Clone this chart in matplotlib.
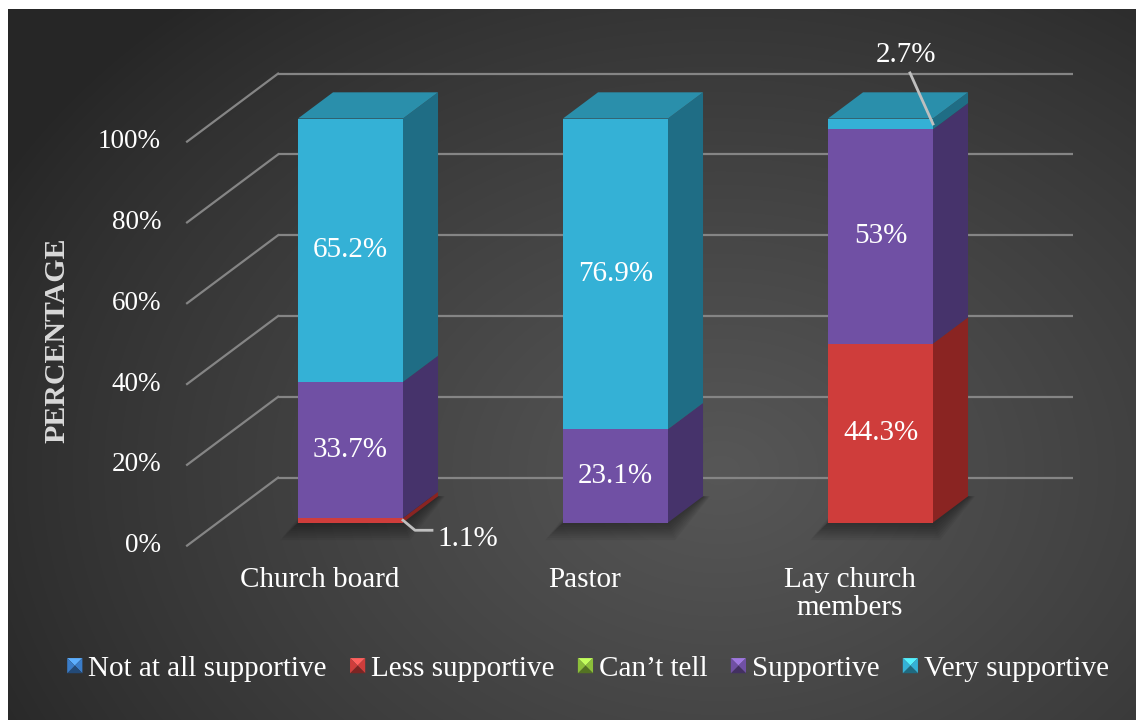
import matplotlib
matplotlib.use("Agg")
import matplotlib.pyplot as plt
import numpy as np
from matplotlib.legend_handler import HandlerBase
from matplotlib.patches import Patch, Polygon

plt.rcParams["font.family"] = ["Liberation Serif", "DejaVu Serif"]

categories = ["Church board", "Pastor", "Lay church\nmembers"]
series = ["Not at all supportive", "Less supportive", "Can\u2019t tell", "Supportive", "Very supportive"]
not_at_all = [0.0, 0.0, 0.0]
less_supportive = [1.1, 0.0, 44.3]
cant_tell = [0.0, 0.0, 0.0]
supportive = [33.7, 23.1, 53.0]
very_supportive = [65.2, 76.9, 2.7]
y_ticks = [0, 20, 40, 60, 80, 100]
values = [not_at_all, less_supportive, cant_tell, supportive, very_supportive]

# front, side, top shades per series
FRONT = ["#3a7cc8", "#cf3d3b", "#8cbf3a", "#7050a4", "#34b1d6"]
SIDE = ["#244f80", "#8a2422", "#5a7d24", "#46336b", "#1f6d85"]
TOP = ["#2f66a6", "#a92f2d", "#739d30", "#5a4185", "#2a8fab"]

W, H = 1136, 720
PX_X = 265.0      # pixels per category step
PX_Y = 4.04       # pixels per percent
X0_PX = 350.5     # pixel x of first category
Y0_PX = 522.5     # pixel y (from top) of 0%

# oblique depth of the floor, split around the bar plane
DEPTH = np.array([91 / PX_X, 68 / PX_Y])
FRONT_OFF = -0.34 * DEPTH
BACK_OFF = 0.66 * DEPTH
BAR_DEPTH = 0.385 * DEPTH
BAR_W = 105 / PX_X
GRID = "#858585"


class BevelHandler(HandlerBase):
    def create_artists(self, legend, orig_handle, xdescent, ydescent,
                       width, height, fontsize, trans):
        c = matplotlib.colors.to_rgb(orig_handle.get_facecolor())
        s = width
        x0, y0 = -xdescent, -ydescent + (height - s) / 2
        cx, cy = x0 + s / 2, y0 + s / 2
        pts = {"bl": (x0, y0), "br": (x0 + s, y0), "tr": (x0 + s, y0 + s), "tl": (x0, y0 + s)}
        light = tuple(min(1, v * 1.25 + 0.08) for v in c)
        dark = tuple(v * 0.6 for v in c)
        faces = [(("tl", "tr"), light), (("tr", "br"), c), (("br", "bl"), dark), (("bl", "tl"), c)]
        arts = []
        for (a, b), col in faces:
            p = Polygon([pts[a], pts[b], (cx, cy)], closed=True, facecolor=col,
                        edgecolor="none", transform=trans)
            arts.append(p)
        return arts


fig = plt.figure(figsize=(W / 100, H / 100), dpi=100, facecolor="white")

# dark panel with soft radial light
bg = fig.add_axes([8 / W, 0, 1 - 8 / W, 1 - 9 / H])
yy, xx = np.mgrid[9:H, 8:W]
d = np.sqrt(((xx - 720) / 820.0) ** 2 + ((yy - 470) / 620.0) ** 2)
shade = np.clip(1 - d, 0, 1) ** 0.85
lo, hi = 0x26 / 255, 0x57 / 255
img = lo + (hi - lo) * shade
bg.imshow(np.dstack([img, img, img]), aspect="auto", interpolation="bilinear")
bg.axis("off")

ax = fig.add_axes([0, 0, 1, 1])
ax.set_xlim(-X0_PX / PX_X, (W - X0_PX) / PX_X)
ax.set_ylim(-(H - Y0_PX) / PX_Y, Y0_PX / PX_Y)
ax.axis("off")
ax.patch.set_alpha(0)

# walls: back gridlines and left-wall diagonals
x_left, x_right = -0.5, len(categories) - 0.5
for t in y_ticks:
    ax.plot([x_left + BACK_OFF[0], x_right + BACK_OFF[0]], [t + BACK_OFF[1]] * 2,
            color=GRID, lw=1.6, zorder=1, solid_capstyle="butt")
    ax.plot([x_left + FRONT_OFF[0], x_left + BACK_OFF[0]],
            [t + FRONT_OFF[1], t + BACK_OFF[1]], color=GRID, lw=1.6, zorder=1)
    ax.text(x_left + FRONT_OFF[0] - 26 / PX_X, t + FRONT_OFF[1], f"{t}%",
            ha="right", va="center", color="white", fontsize=19.5)

xs = np.arange(len(categories))

# soft shadows around bar bases
for i in xs:
    xl, xr = i - BAR_W / 2, i + BAR_W / 2
    for k in range(8):
        g = (k + 1) * 2.2
        gx, gy = g / PX_X, g / PX_Y
        foot = [(xl - gx, -gy), (xr + gx * 0.4, -gy),
                (xr + BAR_DEPTH[0] + gx * 0.4, BAR_DEPTH[1]),
                (xl + BAR_DEPTH[0] - gx, BAR_DEPTH[1])]
        ax.add_patch(Polygon(foot, closed=True, facecolor="black", edgecolor="none",
                             alpha=0.05, zorder=2))

# stacked bars with oblique side and top faces
bottoms = np.zeros(len(categories))
tops_series = np.full(len(categories), -1)
for s, vals in enumerate(values):
    for i in xs:
        if vals[i] > 0:
            tops_series[i] = s

for s, vals in enumerate(values):
    vals = np.asarray(vals)
    ax.bar(xs, vals, width=BAR_W, bottom=bottoms, color=FRONT[s], edgecolor="none", zorder=4)
    for i in xs:
        v = vals[i]
        if v <= 0:
            continue
        b, t = bottoms[i], bottoms[i] + v
        xr = i + BAR_W / 2
        xl = i - BAR_W / 2
        dx, dy = BAR_DEPTH
        ax.add_patch(Polygon([(xr, b), (xr + dx, b + dy), (xr + dx, t + dy), (xr, t)],
                             closed=True, facecolor=SIDE[s], edgecolor="none", zorder=3))
        if tops_series[i] == s:
            ax.add_patch(Polygon([(xl, t), (xr, t), (xr + dx, t + dy), (xl + dx, t + dy)],
                                 closed=True, facecolor=TOP[s], edgecolor="none", zorder=3))
    bottoms = bottoms + vals

# value labels
LEADER = "#bfbfbf"
bottoms = np.zeros(len(categories))
for s, vals in enumerate(values):
    for i in xs:
        v = vals[i]
        if v <= 0:
            continue
        mid = bottoms[i] + v / 2
        label = f"{v:g}%"
        xr = i + BAR_W / 2
        if v >= 5:
            ax.text(i, mid, label, ha="center", va="center", color="white",
                    fontsize=21, zorder=6)
        elif mid < 50:
            ex, ey = xr + 12 / PX_X, mid - 10 / PX_Y
            ax.plot([xr, ex, ex + 17 / PX_X], [mid, ey, ey], color=LEADER, lw=2, zorder=6)
            ax.text(ex + 22 / PX_X, ey - 9 / PX_Y, label, ha="left", va="center",
                    color="white", fontsize=21, zorder=6)
        else:
            ex, ey = xr - 23 / PX_X, mid + 51 / PX_Y
            ax.plot([xr, ex], [mid, ey], color=LEADER, lw=2, zorder=6)
            ax.text(ex - 4 / PX_X, ey + 18 / PX_Y, label, ha="center", va="center",
                    color="white", fontsize=21, zorder=6)
    bottoms = bottoms + np.asarray(vals)

# category labels on the front edge of the floor
for i, name in enumerate(categories):
    ax.text(i + FRONT_OFF[0], FRONT_OFF[1] - 5.3, name, ha="center", va="top",
            color="white", fontsize=21, linespacing=1.12)

fig.text(57 / W, 1 - 340 / H, "PERCENTAGE", rotation=90, ha="center", va="center",
         color="#d9d9d9", fontsize=21.5, fontweight="bold")

handles = [Patch(facecolor=c) for c in FRONT]
leg = fig.legend(handles, series, loc="center", bbox_to_anchor=(588 / W, 1 - 669 / H),
                 ncol=5, frameon=False, fontsize=21, handlelength=0.52, handleheight=0.52,
                 handletextpad=0.2, columnspacing=0.8, labelcolor="white",
                 handler_map={Patch: BevelHandler()})

fig.savefig("out.png", dpi=100, facecolor="white")
